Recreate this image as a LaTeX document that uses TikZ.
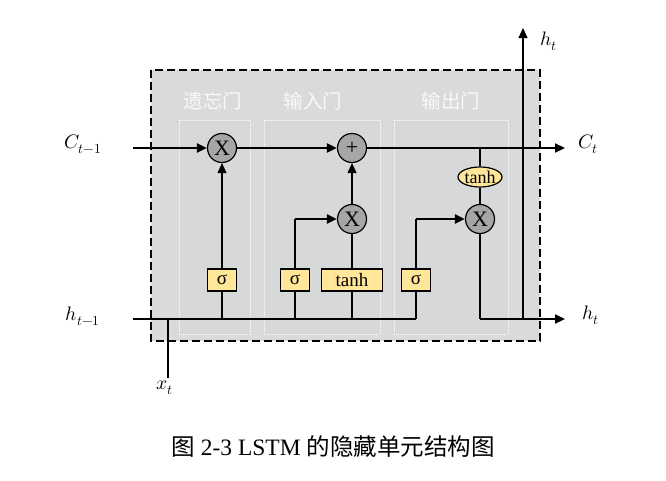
\documentclass[tikz,border=0pt]{standalone}
\usepackage{fontspec}
\usepackage{unicode-math}
\setmainfont{Liberation Serif}
\newfontfamily\cjk{Noto Sans CJK SC}
\usetikzlibrary{arrows.meta,shapes.geometric}
\definecolor{bggray}{RGB}{217,218,219}
\definecolor{gatefill}{RGB}{214,216,218}
\definecolor{opgray}{RGB}{166,166,166}
\definecolor{yel}{RGB}{255,230,153}
\tikzset{
  thickline/.style={line width=2.2pt},
  thinline/.style={line width=1.1pt},
  tip/.style={-{Triangle[length=10pt,width=9pt]}},
  op/.style={circle,draw=black,line width=1.2pt,fill=opgray,minimum size=29pt,inner sep=0pt,font=\fontsize{22}{22}\selectfont},
  actbox/.style={rectangle,draw=black,line width=1.3pt,fill=yel,minimum height=22pt,inner sep=0pt,font=\fontsize{19}{19}\selectfont},
  gatebox/.style={draw=white,densely dotted,line width=1pt,fill=gatefill},
  gatelabel/.style={text=white!95!gray,font=\cjk\fontsize{19.5}{19.5}\selectfont},
  lbl/.style={font=\fontsize{19.5}{19.5}\selectfont}
}
\begin{document}
\begin{tikzpicture}[x=1pt,y=-1pt]
\useasboundingbox (0,0) rectangle (666,480);
% outer dashed cell
\draw[fill=bggray,line width=1.8pt,dash pattern=on 8pt off 4pt] (151,70) rectangle (540,341);
% gate boxes
\draw[gatebox] (179,120) rectangle (250,334);
\draw[gatebox] (264,120) rectangle (380,334);
\draw[gatebox] (394,120) rectangle (508,334);
\node[gatelabel] (lf) at (213,101) {遗忘门};
\node[gatelabel] (li) at (313,101) {输入门};
\node[gatelabel] (lo) at (451,101) {输出门};
% coordinates
\coordinate (cin) at (133,148);
\coordinate (cout) at (565,148);
\coordinate (hin) at (133,319);
\coordinate (hout) at (565,319);
\coordinate (htop) at (523,28);
\coordinate (hbase) at (523,319);
\coordinate (xbot) at (168,378);
\coordinate (xtop) at (168,319);
\coordinate (fbase) at (222,319);
\coordinate (ibase) at (295,319);
\coordinate (tbase) at (352,319);
\coordinate (obase) at (416,319);
\coordinate (ocorner) at (480,319);
\coordinate (icorner) at (295,219);
\coordinate (ocorner2) at (416,219);
\coordinate (ctap) at (480,148);
% operators
\node[op] (fx) at (222,148) {X};
\node[op] (plus) at (352,148) {+};
\node[op] (ix) at (352,219) {X};
\node[op] (ox) at (480,219) {X};
\node[actbox,minimum width=29pt] (fs) at (222,280) {σ};
\node[actbox,minimum width=29pt] (is) at (295,280) {σ};
\node[actbox,minimum width=61pt] (it) at (352,280) {tanh};
\node[actbox,minimum width=29pt] (os) at (416,280) {σ};
\node[ellipse,draw=black,line width=1.2pt,fill=yel,minimum width=44pt,minimum height=20pt,inner sep=0pt,font=\fontsize{18}{18}\selectfont] (ot) at (480,177) {tanh};
% C line
\draw[thickline,tip] (cin) -- (fx);
\draw[thickline,tip] (fx) -- (plus);
\draw[thickline,tip] (plus) -- (cout);
% h line
\draw[thickline] (hin) -- (obase);
\draw[thickline,tip] (ocorner) -- (hout);
\draw[thinline,tip] (hbase) -- (htop);
\draw[thinline] (xtop) -- (xbot);
% forget gate
\draw[thinline] (fbase) -- (fs);
\draw[thinline,tip] (fs) -- (fx);
% input gate
\draw[thinline] (ibase) -- (is);
\draw[thinline] (is) -- (icorner);
\draw[thickline,tip] (icorner) -- (ix);
\draw[thinline] (tbase) -- (it);
\draw[thinline] (it) -- (ix);
\draw[thinline,tip] (ix) -- (plus);
% output gate
\draw[thinline] (obase) -- (os);
\draw[thinline] (os) -- (ocorner2);
\draw[thickline,tip] (ocorner2) -- (ox);
\draw[thinline] (ox) -- (ocorner);
\draw[thinline] (ctap) -- (ot);
\draw[thinline] (ot) -- (ox);
% labels
\node[lbl] (lc0) at (83,144) {$C_{t-1}$};
\node[lbl] (lh0) at (83,316) {$h_{t-1}$};
\node[lbl] (lc1) at (588,144) {$C_t$};
\node[lbl] (lh1) at (549,41) {$h_t$};
\node[lbl] (lh2) at (591,315) {$h_t$};
\node[lbl] (lx) at (165,388) {$x_t$};
\node[font=\fontsize{23.5}{23.5}\selectfont] (cap) at (333,447) {{\cjk 图} 2-3 LSTM {\cjk 的隐藏单元结构图}};
\end{tikzpicture}
\end{document}
